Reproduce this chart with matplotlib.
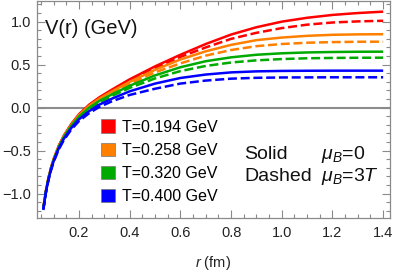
import matplotlib
matplotlib.use("Agg")
import matplotlib.pyplot as plt
from matplotlib.patches import Patch
from matplotlib.ticker import MultipleLocator

plt.rcParams['font.family'] = ['Liberation Sans', 'DejaVu Sans']
plt.rcParams['mathtext.fontset'] = 'custom'
plt.rcParams['mathtext.rm'] = 'Liberation Sans'
plt.rcParams['mathtext.it'] = 'Liberation Sans:italic'

# ---- data ----
r = [0.059, 0.07, 0.08, 0.09, 0.10, 0.12, 0.14, 0.17, 0.20, 0.24, 0.28, 0.33,
     0.40, 0.50, 0.60, 0.70, 0.80, 0.90, 1.00, 1.10, 1.20, 1.30, 1.40]

temps = ["T=0.194 GeV", "T=0.258 GeV", "T=0.320 GeV", "T=0.400 GeV"]
colors = ["#FF0000", "#FF8000", "#00AA00", "#0000FF"]

V_solid_194 = [-1.17, -0.957, -0.81, -0.693, -0.596, -0.443, -0.325, -0.187, -0.076, 0.035, 0.12, 0.21,
               0.33, 0.48, 0.615, 0.74, 0.85, 0.935, 1.0, 1.045, 1.078, 1.10, 1.116]
V_dash_194 = [-1.175, -0.962, -0.815, -0.698, -0.601, -0.449, -0.331, -0.194, -0.084, 0.026, 0.11, 0.198,
              0.315, 0.46, 0.59, 0.70, 0.80, 0.87, 0.925, 0.965, 0.99, 1.003, 1.01]
V_solid_258 = [-1.172, -0.96, -0.813, -0.697, -0.60, -0.448, -0.331, -0.195, -0.086, 0.022, 0.105, 0.19,
               0.30, 0.44, 0.56, 0.655, 0.73, 0.785, 0.815, 0.835, 0.847, 0.852, 0.854]
V_dash_258 = [-1.176, -0.964, -0.818, -0.702, -0.606, -0.455, -0.339, -0.204, -0.096, 0.01, 0.092, 0.175,
              0.28, 0.41, 0.515, 0.605, 0.67, 0.715, 0.74, 0.755, 0.762, 0.766, 0.767]
V_solid_320 = [-1.175, -0.964, -0.818, -0.703, -0.607, -0.457, -0.342, -0.209, -0.103, 0.0, 0.078, 0.155,
               0.255, 0.375, 0.47, 0.54, 0.585, 0.615, 0.632, 0.642, 0.647, 0.65, 0.651]
V_dash_320 = [-1.18, -0.968, -0.823, -0.708, -0.613, -0.464, -0.35, -0.218, -0.114, -0.013, 0.063, 0.137,
              0.23, 0.34, 0.425, 0.485, 0.525, 0.55, 0.565, 0.574, 0.578, 0.58, 0.581]
V_solid_400 = [-1.18, -0.97, -0.826, -0.713, -0.619, -0.473, -0.362, -0.234, -0.135, -0.04, 0.035, 0.105,
               0.19, 0.28, 0.345, 0.385, 0.41, 0.422, 0.427, 0.429, 0.43, 0.43, 0.43]
V_dash_400 = [-1.19, -0.978, -0.835, -0.723, -0.63, -0.486, -0.377, -0.252, -0.156, -0.064, 0.008, 0.074,
              0.148, 0.22, 0.28, 0.315, 0.337, 0.347, 0.351, 0.352, 0.353, 0.353, 0.353]

solid = [V_solid_194, V_solid_258, V_solid_320, V_solid_400]
dashed = [V_dash_194, V_dash_258, V_dash_320, V_dash_400]

x_ticks = [0.2, 0.4, 0.6, 0.8, 1.0, 1.2, 1.4]
y_ticks = [-1.0, -0.5, 0.0, 0.5, 1.0]

# ---- figure ----
W, H = 395, 276
fig = plt.figure(figsize=(W / 100, H / 100), dpi=100)
L, R, T, B = 36.7, 390.0, 1.0, 217.5
ax = fig.add_axes([L / W, 1 - B / H, (R - L) / W, (B - T) / H])
ax.set_xlim(0.033, 1.427)
ax.set_ylim(-1.277, 1.24)

ax.axhline(0, color="#8c8c8c", lw=1.5, zorder=1)

lw = 1.8
for c, vs, vd in zip(colors, solid, dashed):
    ax.plot(r, vs, color=c, lw=lw, solid_capstyle="butt", zorder=2)
    ax.plot(r, vd, color=c, lw=lw, dashes=(3.6, 1.5), zorder=2)

frame_col = "#8a8a8a"
for s in ax.spines.values():
    s.set_color(frame_col)
    s.set_linewidth(0.9)

ax.set_xticks(x_ticks)
ax.set_xticklabels([f"{v:.1f}" for v in x_ticks])
ax.set_yticks(y_ticks)
ax.set_yticklabels([("\u22121.0" if v == -1 else "\u22120.5" if v == -0.5 else f"{v:.1f}") for v in y_ticks])
ax.xaxis.set_minor_locator(MultipleLocator(0.05))
ax.yaxis.set_minor_locator(MultipleLocator(0.1))
ax.tick_params(which="both", direction="in", top=True, right=True, color=frame_col,
               labelsize=10.5, labelcolor="#222222", width=0.8)
ax.tick_params(which="major", length=6)
ax.tick_params(which="minor", length=3.2)
ax.tick_params(axis="x", pad=6)
ax.tick_params(axis="y", pad=4)

ax.set_xlabel(r"$r$ (fm)", fontsize=10.5, color="#222222", labelpad=10)

ax.text((45 - L) / (R - L), 1 - (28 - T) / (B - T), "V(r) (GeV)", transform=ax.transAxes,
        fontsize=14.5, va="center", ha="left", color="#111111")

handles = [Patch(facecolor=c, edgecolor="#777777", linewidth=0.5) for c in colors]
leg = ax.legend(handles, temps, loc="upper left",
                bbox_to_anchor=(100.5 / W, 1 - 119.5 / H), bbox_transform=fig.transFigure,
                frameon=False, fontsize=11.5, handlelength=0.9, handleheight=0.9,
                handletextpad=0.45, labelspacing=0.5, borderpad=0, borderaxespad=0)

ax.text((244 - L) / (R - L), 1 - (155 - T) / (B - T), "Solid", transform=ax.transAxes,
        fontsize=14, va="center", ha="left", color="#111111")
ax.text((321 - L) / (R - L), 1 - (155 - T) / (B - T), r"$\mu_B$=0", transform=ax.transAxes,
        fontsize=14, va="center", ha="left", color="#111111")
ax.text((244 - L) / (R - L), 1 - (177 - T) / (B - T), "Dashed", transform=ax.transAxes,
        fontsize=14, va="center", ha="left", color="#111111")
ax.text((321 - L) / (R - L), 1 - (177 - T) / (B - T), r"$\mu_B$=3$T$", transform=ax.transAxes,
        fontsize=14, va="center", ha="left", color="#111111")

fig.savefig("out.png", dpi=100)
